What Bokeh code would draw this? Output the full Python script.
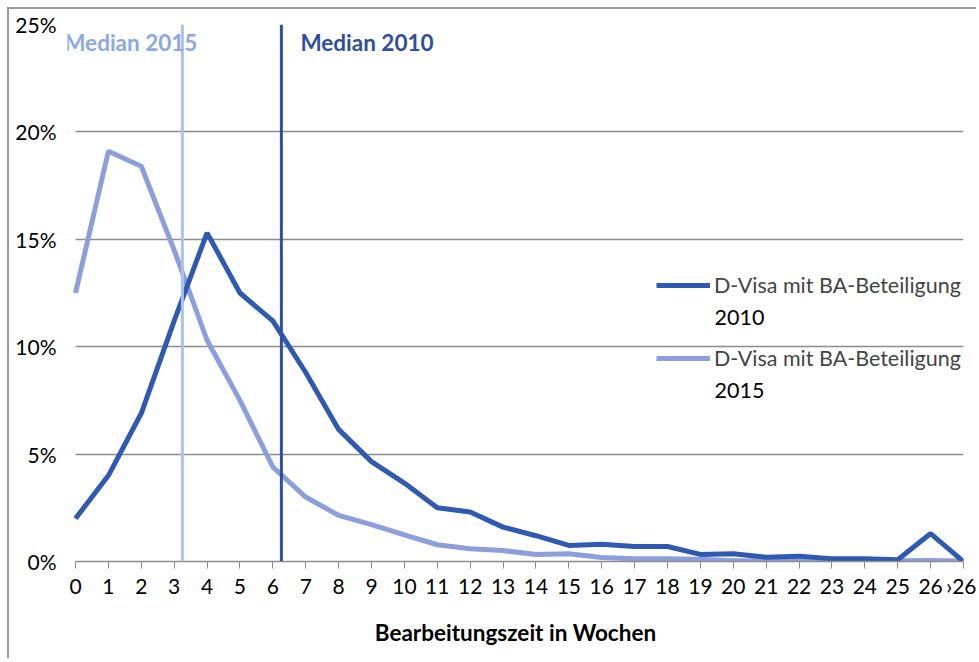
from bokeh.plotting import figure
from bokeh.models import (Range1d, FixedTicker, PrintfTickFormatter, Span, Label,
                          Legend, LegendItem, BoxAnnotation)
from bokeh.embed import file_html
from bokeh.resources import INLINE

# ---- data -------------------------------------------------------------
week_labels = [str(i) for i in range(27)] + ["›26"]
share_2010 = [2.0, 4.0, 6.9, 11.2, 15.3, 12.5, 11.2, 8.8, 6.15, 4.65, 3.65, 2.5, 2.3,
              1.6, 1.2, 0.75, 0.8, 0.7, 0.7, 0.33, 0.36, 0.2, 0.25, 0.13, 0.13, 0.08,
              1.3, 0.0]
share_2015 = [12.5, 19.1, 18.4, 14.5, 10.3, 7.5, 4.4, 3.0, 2.15, 1.72, 1.24, 0.78, 0.59,
              0.51, 0.33, 0.36, 0.19, 0.13, 0.13, 0.1, 0.03, 0.03, 0.03, 0.03, 0.03,
              0.03, 0.05, 0.02]
median_values = [3.25, 6.26]
median_names = ["Median 2015", "Median 2010"]
series_label = "D-Visa mit BA-Beteiligung"
series_years = ["2010", "2015"]
y_ticks = [0, 5, 10, 15, 20, 25]

FONT = "Lato"
C2010 = "#2E5AB4"
C2015 = "#8C9FDD"
MED2015 = "#A9C3EE"
MED2010 = "#2C51A0"
TXT2015 = "#8DA8E2"
TXT2010 = "#2D4F9E"

x = list(range(len(week_labels)))
x_last = len(week_labels) - 1
pad = 8 * x_last / 888.0   # a little room left of week 0 for the median caption

p = figure(width=969, height=651, output_backend="svg", toolbar_location=None,
           x_range=Range1d(-pad, x_last), y_range=Range1d(0, 25),
           min_border_left=58, min_border_right=15, min_border_top=15,
           min_border_bottom=99)
p.styles = {"border-top": "2px solid #9a9a9a", "border-left": "2px solid #9a9a9a",
            "margin-left": "7px", "margin-top": "7px"}
p.outline_line_color = None
p.background_fill_color = "white"

# axes
p.xaxis.ticker = FixedTicker(ticks=x)
p.xaxis.bounds = (0, x_last)
p.xaxis.major_label_overrides = {i: lab for i, lab in enumerate(week_labels)}
p.xaxis.axis_line_color = "#8c8c8c"
p.xaxis.axis_line_width = 1.5
p.xaxis.major_tick_line_color = "#8c8c8c"
p.xaxis.major_tick_in = 0
p.xaxis.major_tick_out = 7
p.xaxis.minor_tick_line_color = None
p.xaxis.major_label_standoff = 4
p.xaxis.major_label_text_font = FONT
p.xaxis.major_label_text_font_size = "21px"
p.xaxis.major_label_text_color = "black"
p.xaxis.axis_label = "Bearbeitungszeit in Wochen"
p.xaxis.axis_label_text_font = FONT
p.xaxis.axis_label_text_font_size = "22.5px"
p.xaxis.axis_label_text_font_style = "bold"
p.xaxis.axis_label_text_color = "black"
p.xaxis.axis_label_standoff = 18

p.yaxis.ticker = FixedTicker(ticks=y_ticks)
p.yaxis.formatter = PrintfTickFormatter(format="%d%%")
p.yaxis.axis_line_color = None
p.yaxis.major_tick_line_color = None
p.yaxis.minor_tick_line_color = None
p.yaxis.major_label_standoff = 5
p.yaxis.major_label_text_font = FONT
p.yaxis.major_label_text_font_size = "21px"
p.yaxis.major_label_text_color = "black"

p.xgrid.grid_line_color = None
p.ygrid.grid_line_color = "#8c8c8c"
p.ygrid.grid_line_width = 1.5

# hide gridlines in the small margin left of week 0
p.add_layout(BoxAnnotation(right=0, fill_color="white", fill_alpha=1,
                           line_color=None, level="underlay"))

# medians
for val, col in zip(median_values, [MED2015, MED2010]):
    p.add_layout(Span(location=val, dimension="height", line_color=col, line_width=3))

p.add_layout(Label(x=median_values[0], y=25, x_offset=15, y_offset=-18,
                   text=median_names[0], text_align="right", text_baseline="middle",
                   text_font=FONT, text_font_size="22.5px", text_font_style="bold",
                   text_color=TXT2015))
p.add_layout(Label(x=median_values[1], y=25, x_offset=19, y_offset=-18,
                   text=median_names[1], text_align="left", text_baseline="middle",
                   text_font=FONT, text_font_size="22.5px", text_font_style="bold",
                   text_color=TXT2010))

# series
r2015 = p.line(x, share_2015, line_color=C2015, line_width=5)
r2010 = p.line(x, share_2010, line_color=C2010, line_width=5)

legend = Legend(items=[LegendItem(label=series_label, renderers=[r2010]),
                       LegendItem(label=series_label, renderers=[r2015])],
                location=(589, 190), background_fill_alpha=0, border_line_color=None,
                padding=0, margin=0, spacing=47, glyph_width=54, label_standoff=4,
                label_text_font=FONT, label_text_font_size="21.5px")
p.add_layout(legend)

for yr, ys in zip(series_years, [244, 171]):
    p.add_layout(Label(x=647, y=ys, x_units="screen", y_units="screen", text=yr,
                       text_align="left", text_baseline="middle", text_font=FONT,
                       text_font_size="21.5px", text_color="black"))

open("out.html", "w").write(file_html(p, INLINE))
